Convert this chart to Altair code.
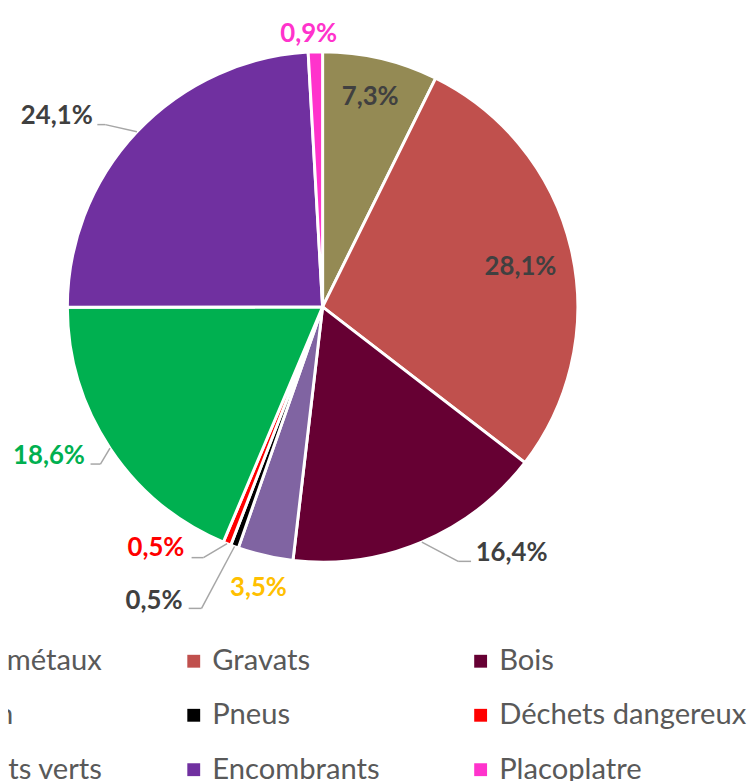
import altair as alt
import pandas as pd

# ---- data ----
categories = ["Fer et métaux", "Gravats", "Bois", "Carton", "Pneus",
              "Déchets dangereux", "Déchets verts", "Encombrants", "Placoplatre"]
values = [7.3, 28.1, 16.4, 3.5, 0.5, 0.5, 18.6, 24.1, 0.9]

# ---- styles ----
slice_colors = ["#948A54", "#C0504D", "#660033", "#8064A2", "#000000",
                "#FF0000", "#00B050", "#7030A0", "#FF33CC"]
label_colors = ["#404040", "#404040", "#404040", "#FFC000", "#404040",
                "#FF0000", "#00B050", "#404040", "#FF33CC"]

W, H = 747, 773
CX, CY, R = 318, 298, 258
FONT = "Lato"
LEADER = "#A6A6A6"

# label layout: angle shift (deg) from slice mid-angle, radius,
# and for leader labels (elbow dx, end dx, line dy) relative to label centre
layout = {
    "Fer et métaux":     dict(da=-0.4, r=218),
    "Gravats":           dict(da=1.8, r=204),
    "Bois":              dict(da=-14.6, r=314, lead=(-54, -41, 8)),
    "Carton":            dict(da=-0.1, r=291),
    "Pneus":             dict(da=9.6, r=343, lead=(48, 35, 7)),
    "Déchets dangereux": dict(da=12.7, r=296, lead=(48, 36, 10)),
    "Déchets verts":     dict(da=5.0, r=315, lead=(52, 42, 8)),
    "Encombrants":       dict(da=-7.6, r=331, lead=(49, 41, 9)),
    "Placoplatre":       dict(da=-1.3, r=276),
}

df = pd.DataFrame({"category": categories, "value": values,
                   "idx": list(range(len(categories)))})

arcs = alt.Chart(df).mark_arc(radius=R, stroke="white", strokeWidth=3).encode(
    x=alt.value(CX), y=alt.value(CY),
    theta=alt.Theta("value:Q", stack=True),
    order=alt.Order("idx:Q"),
    color=alt.Color(
        "category:N",
        scale=alt.Scale(domain=categories, range=slice_colors),
        legend=alt.Legend(
            title=None, orient="none", legendX=-117, legendY=641,
            direction="horizontal",
            columns=3, gridAlign="all", columnPadding=6, rowPadding=24,
            symbolType="square", symbolSize=169, symbolStrokeWidth=0,
            labelFont=FONT, labelFontSize=29.5, labelColor="#595959",
            labelOffset=4, labelLimit=500, padding=0,
        ),
    ),
)

base = (
    alt.Chart(df)
    .transform_window(cum="sum(value)", sort=[alt.SortField("idx")])
    .transform_joinaggregate(total="sum(value)")
    .transform_calculate(
        mid="(datum.cum - datum.value / 2) / datum.total * 2 * PI",
        label="replace(format(datum.value, '.1f'), '.', ',') + '%'",
    )
)

layers = [arcs]
for cat, col in zip(categories, label_colors):
    L = layout[cat]
    da = L["da"] * 3.141592653589793 / 180
    b = base.transform_filter(alt.datum.category == cat).transform_calculate(
        lx=f"{CX} + {L['r']} * sin(datum.mid + {da})",
        ly=f"{CY} - {L['r']} * cos(datum.mid + {da})",
        ex=f"{CX} + {R} * sin(datum.mid)",
        ey=f"{CY} - {R} * cos(datum.mid)",
    )
    if "lead" in L:
        edx, endx, ldy = L["lead"]
        lb = b.transform_calculate(
            bx=f"datum.lx + {edx}", by=f"datum.ly + {ldy}",
            fx=f"datum.lx + {endx}",
        )
        layers.append(lb.mark_rule(color=LEADER, strokeWidth=1.5).encode(
            x=alt.X("ex:Q", scale=None), y=alt.Y("ey:Q", scale=None),
            x2="bx:Q", y2="by:Q"))
        layers.append(lb.mark_rule(color=LEADER, strokeWidth=1.5).encode(
            x=alt.X("bx:Q", scale=None), y=alt.Y("by:Q", scale=None),
            x2="fx:Q", y2="by:Q"))
    layers.append(b.mark_text(font=FONT, fontWeight="bold", fontSize=26,
                              color=col, align="center", baseline="middle").encode(
        x=alt.X("lx:Q", scale=None), y=alt.Y("ly:Q", scale=None), text="label:N"))

chart = alt.layer(*layers).properties(
    width=W, height=H, autosize=alt.AutoSizeParams(type="none"), padding=0
).configure_view(stroke=None)

chart.save("out.html", embed_options={"renderer": "svg", "actions": False})
